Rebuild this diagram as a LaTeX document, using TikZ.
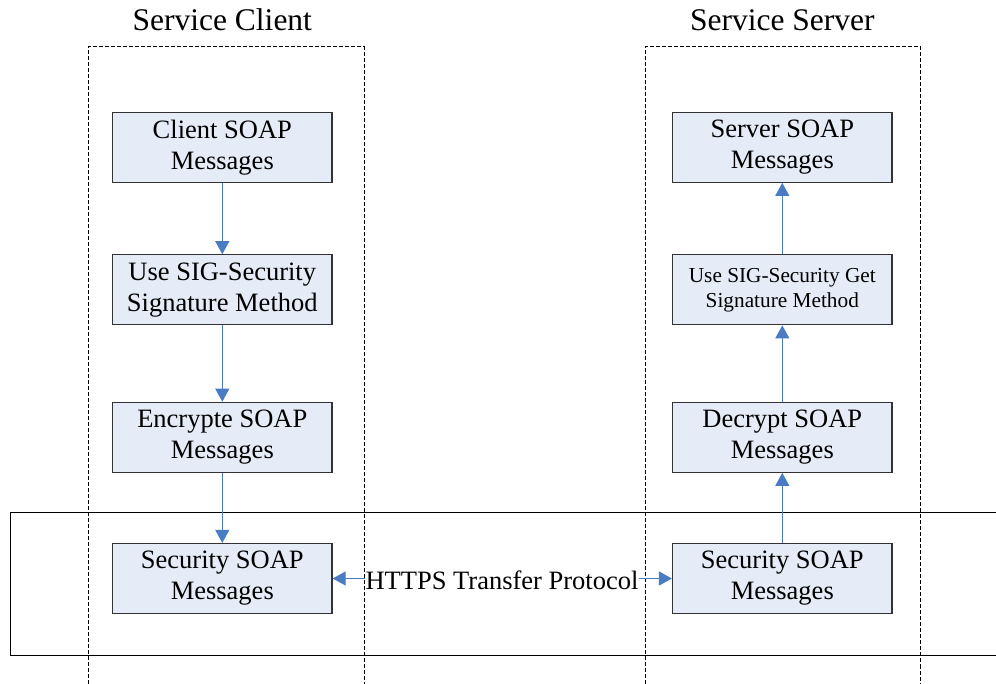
\documentclass[tikz,border=0pt]{standalone}
\usepackage{fontspec}
\setmainfont{Liberation Serif}
\usetikzlibrary{arrows.meta}

\definecolor{boxfill}{HTML}{E6ECF7}
\definecolor{boxline}{HTML}{333333}
\definecolor{flow}{HTML}{4A7CC4}

\tikzset{
  msgbox/.style={draw=boxline, line width=1.2pt, fill=boxfill,
    minimum width=219.5pt, minimum height=70pt, inner sep=0pt,
    align=center, font=\fontsize{26.5}{31}\selectfont,
    execute at begin node={\rule{0pt}{0.9em}}},
  smallbox/.style={msgbox, font=\fontsize{21.3}{25}\selectfont},
  flowarrow/.style={draw=flow, line width=1pt,
    -{Triangle[width=14pt,length=13pt]}},
  lane/.style={draw=black, line width=1pt, dash pattern=on 4pt off 2pt},
  band/.style={draw=black, line width=1pt},
  title/.style={font=\fontsize{31.5}{36}\selectfont, anchor=base},
  proto/.style={font=\fontsize{26.5}{31}\selectfont, inner sep=0pt}
}

\begin{document}
\begin{tikzpicture}[x=1pt,y=-1pt]
  \useasboundingbox (0,0) rectangle (996,684);

  % lanes for the two parties (open at the bottom)
  \draw[lane] (88,684) -- (88,47) -- (364,47) -- (364,684);
  \draw[lane] (645,684) -- (645,47) -- (920.5,47) -- (920.5,684);

  % transport band
  \draw[band] (996,512.5) -- (10,512.5) -- (10,655) -- (996,655);

  % lane titles
  \node[title] (tclient) at (222.3,31) {Service Client};
  \node[title] (tserver) at (782.3,31) {Service Server};

  % client side
  \node[msgbox] (c1) at (222.3,147.3) {Client SOAP\\Messages};
  \node[msgbox] (c2) at (222.3,289.8) {Use SIG-Security\\Signature Method};
  \node[msgbox] (c3) at (222.3,437.3) {Encrypte SOAP\\Messages};
  \node[msgbox] (c4) at (222.3,578.5) {Security SOAP\\Messages};

  % server side
  \node[msgbox] (s1) at (782.3,147.3) {Server SOAP\\Messages};
  \node[smallbox] (s2) at (782.3,289.8) {Use SIG-Security Get\\Signature Method};
  \node[msgbox] (s3) at (782.3,437.3) {Decrypt SOAP\\Messages};
  \node[msgbox] (s4) at (782.3,578.5) {Security SOAP\\Messages};

  % transfer label
  \node[proto] (https) at (502,580.5) {HTTPS Transfer Protocol};

  % client flow (downwards)
  \draw[flowarrow] (c1) -- (c2);
  \draw[flowarrow] (c2) -- (c3);
  \draw[flowarrow] (c3) -- (c4);

  % server flow (upwards)
  \draw[flowarrow] (s4) -- (s3);
  \draw[flowarrow] (s3) -- (s2);
  \draw[flowarrow] (s2) -- (s1);

  % transfer between the two sides
  \draw[flowarrow] (c4.east -| https.west) -- (c4.east);
  \draw[flowarrow] (s4.west -| https.east) -- (s4.west);
\end{tikzpicture}
\end{document}
